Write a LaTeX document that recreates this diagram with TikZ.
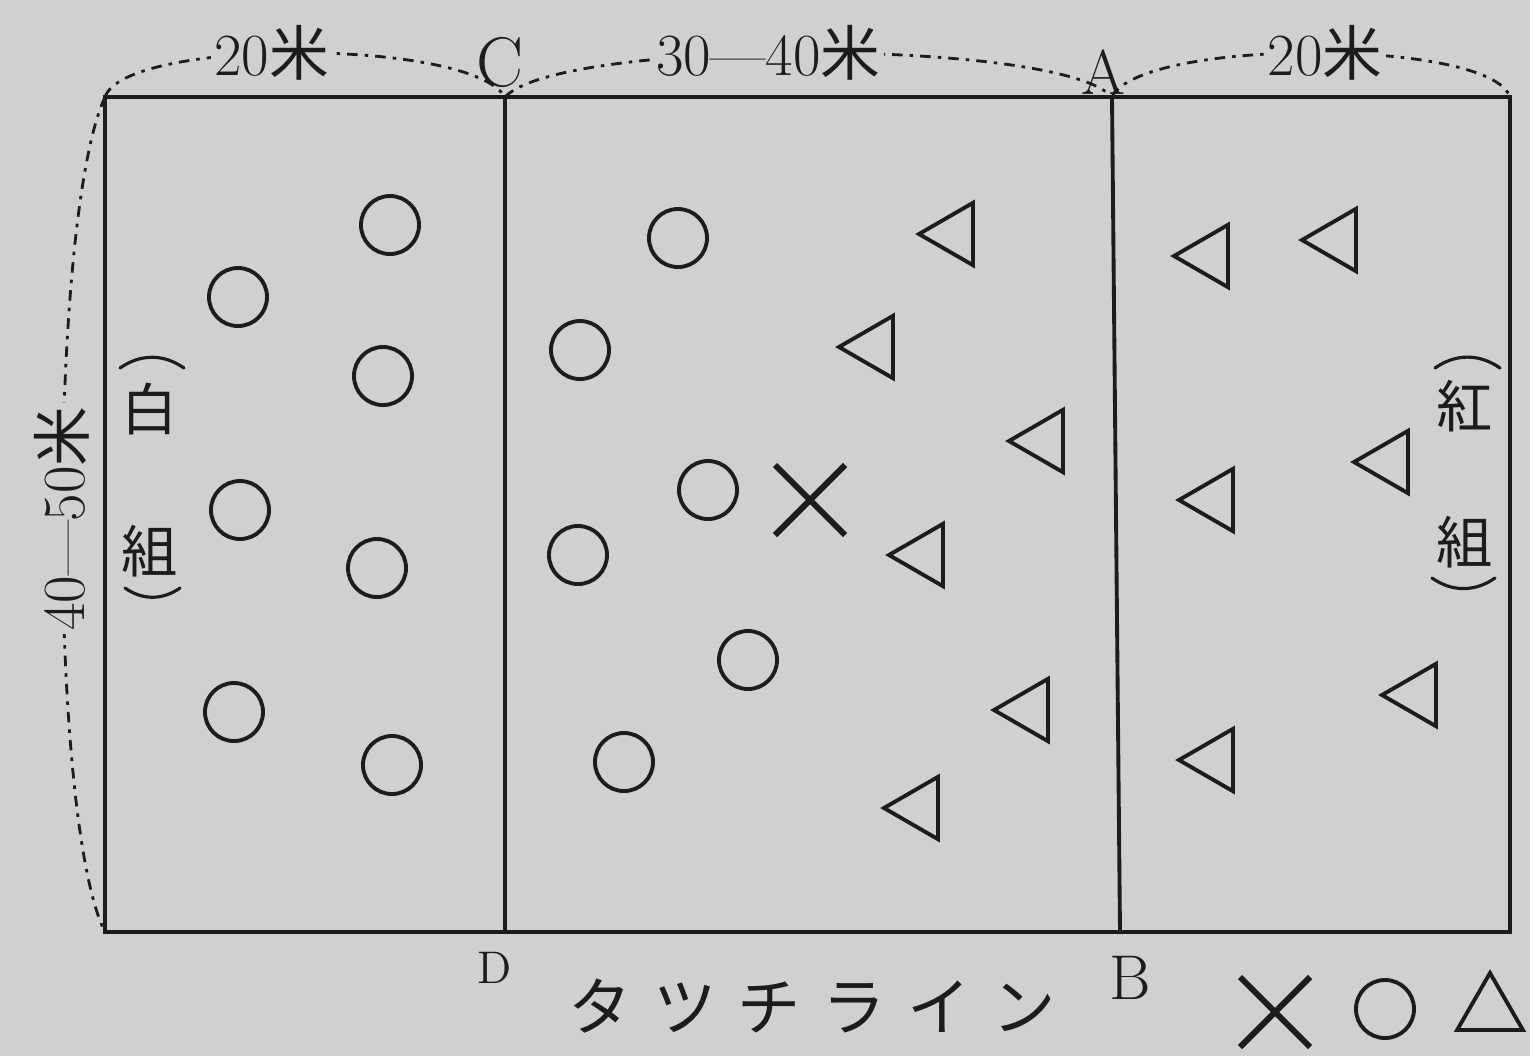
\documentclass[tikz,border=0pt]{standalone}
\usepackage{fontspec}
\newfontfamily\cjk{Noto Sans CJK JP}
\newfontfamily\cjkwide{Noto Sans CJK JP}[LetterSpace=34]
\usetikzlibrary{shapes.geometric, shapes.misc, positioning, calc}
\definecolor{paper}{RGB}{208,208,206}
\definecolor{ink}{RGB}{28,28,28}

\begin{document}
\begin{tikzpicture}[
    x=0.01cm, y=-0.01cm,
    fieldline/.style={draw=ink, line width=1.1pt},
    dim/.style={draw=ink, line width=0.8pt, dash pattern=on 3pt off 2pt on 1pt off 2pt},
    dimlabel/.style={fill=paper, inner sep=1pt, text=ink, font=\fontsize{17}{20}\selectfont},
    letter/.style={text=ink, inner sep=0pt, font=\fontsize{16}{18}\selectfont},
    teamlabel/.style={text=ink, inner sep=0pt, align=center, font=\cjk\fontsize{16}{14.2}\selectfont},
    paren/.style={draw=ink, line width=0.9pt, line cap=round},
    whiteman/.style={circle, draw=ink, line width=1.1pt, minimum size=0.58cm, inner sep=0pt},
    redman/.style={regular polygon, regular polygon sides=3, shape border rotate=90,
        draw=ink, line width=1.1pt, minimum size=0.72cm, inner sep=0pt},
    ballmark/.style={cross out, draw=ink, line width=1.7pt, minimum size=0.64cm, inner sep=0pt},
]
\useasboundingbox[fill=paper] (0,0) rectangle (1530,1056);

% field corners and lines
\coordinate (NW) at (105,97);
\coordinate (NE) at (1510,97);
\coordinate (SW) at (105,932);
\coordinate (SE) at (1510,932);
\coordinate (C) at (505,97);
\coordinate (D) at (505,932);
\coordinate (A) at (1112,97);
\coordinate (B) at (1120,932);

\draw[fieldline] (NW) rectangle (SE);
\draw[fieldline] (C) -- (D);
\draw[fieldline] (A) -- (B);

% measures
\draw[dim] (NW) .. controls (125,38) and (470,38) .. node[dimlabel, pos=0.45] (LEN1) {20{\cjk 米}} (C);
\draw[dim] (C) .. controls (560,38) and (1060,38) .. node[dimlabel, pos=0.45] (LEN2) {30---40{\cjk 米}} (A);
\draw[dim] (A) .. controls (1140,38) and (1490,38) .. node[dimlabel, pos=0.52] (LEN3) {20{\cjk 米}} (NE);
\draw[dim] (NW) .. controls (48,220) and (48,820) .. node[dimlabel, pos=0.5, rotate=90] (WID) {40---50{\cjk 米}} (SW);

% corner letters
\node[letter, font=\fontsize{20}{22}\selectfont] (LC) at (500,62) {C};
\node[letter, font=\fontsize{18}{20}\selectfont] (LA) at (1103,72) {A};
\node[letter, font=\fontsize{13}{15}\selectfont] (LD) at (495,968) {D};
\node[letter, font=\fontsize{18}{20}\selectfont] (LB) at (1130,978) {B};
\node[text=ink, inner sep=0pt, font=\cjkwide\fontsize{18}{20}\selectfont] (TOUCH) at (812,1006) {タツチライン};

% team names, with their bracket arcs
\node[teamlabel] (WHT) at (150,480) {白\\[0.87cm]組};
\draw[paren] (120,368) to[bend left=35] (184,368);
\draw[paren] (125,588) to[bend right=35] (180,588);
\node[teamlabel] (RED) at (1465,474) {紅\\[0.8cm]組};
\draw[paren] (1435,368) to[bend left=35] (1500,368);
\draw[paren] (1432,578) to[bend right=35] (1495,578);

% white team
\node[whiteman] (W1) at (390,225) {};
\node[whiteman] (W2) at (238,297) {};
\node[whiteman] (W3) at (383,376) {};
\node[whiteman] (W4) at (240,510) {};
\node[whiteman] (W5) at (377,568) {};
\node[whiteman] (W6) at (234,712) {};
\node[whiteman] (W7) at (392,765) {};
\node[whiteman] (W8) at (678,238) {};
\node[whiteman] (W9) at (580,350) {};
\node[whiteman] (W10) at (708,490) {};
\node[whiteman] (W11) at (578,555) {};
\node[whiteman] (W12) at (748,660) {};
\node[whiteman] (W13) at (624,762) {};

% red team
\node[redman] (R1) at (955,234) {};
\node[redman] (R2) at (875,347) {};
\node[redman] (R3) at (1045,441) {};
\node[redman] (R4) at (925,555) {};
\node[redman] (R5) at (1030,710) {};
\node[redman] (R6) at (920,808) {};
\node[redman] (R7) at (1210,256) {};
\node[redman] (R8) at (1338,240) {};
\node[redman] (R9) at (1215,500) {};
\node[redman] (R10) at (1390,462) {};
\node[redman] (R11) at (1215,760) {};
\node[redman] (R12) at (1418,695) {};

% ball
\node[ballmark] (BALL) at (810,500) {};

% key
\node[ballmark] (KEYX) at (1275,1012) {};
\node[whiteman] (KEYO) at (1385,1009) {};
\node[redman, shape border rotate=0, minimum size=0.76cm] (KEYT) at (1490,1011) {};
\end{tikzpicture}
\end{document}
